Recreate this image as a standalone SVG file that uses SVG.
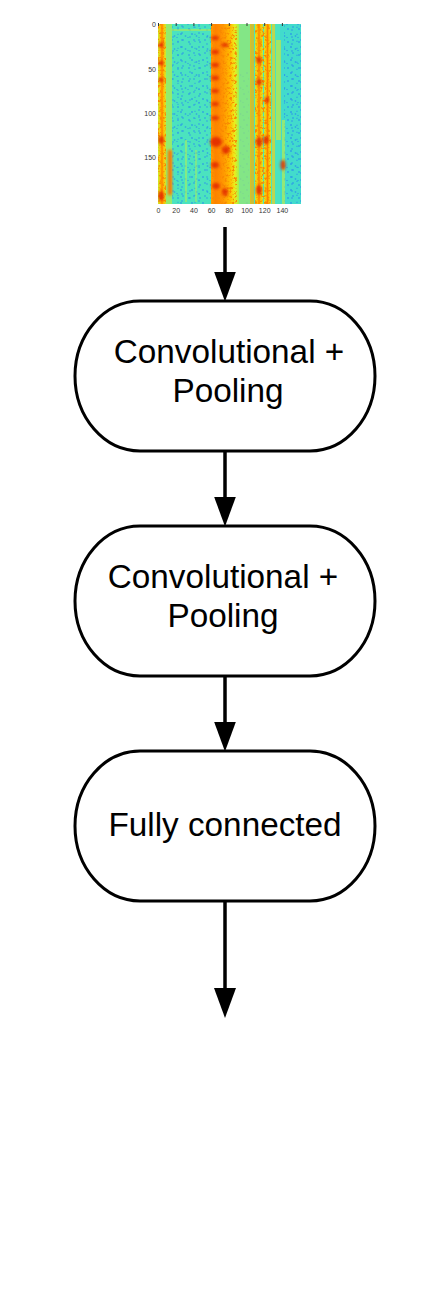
<svg xmlns="http://www.w3.org/2000/svg" width="444" height="1311" viewBox="0 0 444 1311">
<style>
.node{fill:#ffffff;stroke:#000000;stroke-width:3}
.lbl{font-family:"Liberation Sans",Arial,sans-serif;font-size:33.3px;fill:#000000;text-anchor:middle}
.conn{stroke:#000000;stroke-width:3.5;fill:none}
.ax{font-family:"Liberation Sans",Arial,sans-serif;font-size:7px;fill:#333333}
.axl{text-anchor:end}
.axb{text-anchor:middle}
.tick{stroke:#333333;stroke-width:1}
.dot{fill:#2a9ae8}
</style>
<defs>
<marker id="arrow" markerUnits="userSpaceOnUse" markerWidth="30" markerHeight="22" viewBox="0 0 30 22" refX="5" refY="11" orient="auto">
<path d="M0,0 L30,11 L0,22 Z" fill="#000000"/>
</marker>
<linearGradient id="stripe" x1="0" y1="0" x2="1" y2="0">
<stop offset="0" stop-color="#c8f030"/>
<stop offset="0.3" stop-color="#ffc000"/>
<stop offset="0.5" stop-color="#ff8000"/>
<stop offset="0.7" stop-color="#ffc000"/>
<stop offset="1" stop-color="#c8f030"/>
</linearGradient>
<linearGradient id="wide" x1="0" y1="0" x2="1" y2="0">
<stop offset="0" stop-color="#ffa000"/>
<stop offset="0.15" stop-color="#ff8000"/>
<stop offset="0.45" stop-color="#ff9800"/>
<stop offset="0.7" stop-color="#ffc000"/>
<stop offset="0.85" stop-color="#e8f020"/>
<stop offset="1" stop-color="#a0f050"/>
</linearGradient>
<pattern id="specA" patternUnits="userSpaceOnUse" x="0" y="0" width="11" height="13">
<circle class="dot" cx="2" cy="3" r="1"/>
<circle class="dot" cx="7" cy="1" r="0.9"/>
<circle class="dot" cx="5" cy="8" r="1.1"/>
<circle class="dot" cx="9.5" cy="10" r="0.9"/>
<circle class="dot" cx="1" cy="11.5" r="0.8"/>
</pattern>
<pattern id="specB" patternUnits="userSpaceOnUse" x="0" y="0" width="17" height="7">
<circle class="dot" cx="3" cy="2" r="0.9"/>
<circle class="dot" cx="12" cy="5" r="1"/>
<circle class="dot" cx="8" cy="6.3" r="0.8"/>
</pattern>
<filter id="warm" x="0" y="0" width="1" height="1">
<feTurbulence type="fractalNoise" baseFrequency="0.4" numOctaves="2" seed="7"/>
<feColorMatrix type="matrix" values="0 0 0 0 0.95  0 0 0 0 0.25  0 0 0 0 0  5 0 0 0 -2.5"/>
</filter>
<filter id="soft" x="-50%" y="-50%" width="200%" height="200%">
<feGaussianBlur stdDeviation="1.4"/>
</filter>
<filter id="blurall" x="0" y="0" width="1" height="1">
<feGaussianBlur stdDeviation="0.6"/>
</filter>
<clipPath id="specclip"><rect x="158" y="24" width="143" height="180"/></clipPath>
<clipPath id="warmclip">
<rect x="158" y="24" width="8" height="180"/>
<rect x="211" y="24" width="26" height="180"/>
<rect x="255" y="24" width="16" height="180"/>
</clipPath>
</defs>

<g id="spectrogram">
<g clip-path="url(#specclip)">
<g filter="url(#blurall)">
<rect x="158" y="24" width="143" height="180" fill="#4ce3bf"/>
<rect x="280" y="24" width="21" height="180" fill="#3ed6d6" opacity="0.6"/>
<rect x="172" y="24" width="39" height="180" fill="url(#specA)" opacity="0.7"/>
<rect x="172" y="24" width="39" height="180" fill="url(#specB)" opacity="0.6"/>
<rect x="284" y="24" width="17" height="180" fill="url(#specA)" opacity="0.8"/>
<rect x="284" y="24" width="17" height="180" fill="url(#specB)" opacity="0.7"/>
<rect x="240" y="70" width="9" height="134" fill="url(#specA)" opacity="0.4"/>
<rect x="158" y="24" width="8" height="180" fill="url(#stripe)"/>
<rect x="166" y="24" width="6" height="180" fill="#b4ee48" opacity="0.7"/>
<rect x="168" y="150" width="4" height="45" fill="#ff7000" filter="url(#soft)"/>
<rect x="185" y="140" width="2" height="62" fill="#a8ee60" opacity="0.6"/>
<rect x="195" y="150" width="2" height="52" fill="#a8ee60" opacity="0.5"/>
<rect x="211" y="24" width="28" height="180" fill="url(#wide)"/>
<rect x="239" y="24" width="12" height="180" fill="#a8e860" opacity="0.6"/>
<rect x="250" y="24" width="4" height="180" fill="#ffb000" opacity="0.7"/>
<rect x="255" y="24" width="8" height="180" fill="url(#stripe)"/>
<rect x="264" y="24" width="7" height="180" fill="url(#stripe)"/>
<rect x="272" y="24" width="3" height="180" fill="#f0d020" opacity="0.7"/>
<rect x="276" y="40" width="5" height="100" fill="#d8e830" opacity="0.6"/>
<rect x="282" y="120" width="3" height="84" fill="#c8f040" opacity="0.6"/>
<rect x="172" y="29" width="39" height="2" fill="#c0f040" opacity="0.5"/>
<rect x="158" y="24" width="143" height="180" filter="url(#warm)" clip-path="url(#warmclip)"/>
<g fill="#e02000" filter="url(#soft)" opacity="0.85">
<ellipse cx="161" cy="45" rx="3" ry="2.5"/>
<ellipse cx="161" cy="63" rx="3" ry="2.5"/>
<ellipse cx="161" cy="80" rx="3" ry="2"/>
<ellipse cx="161" cy="140" rx="3" ry="4"/>
<ellipse cx="161" cy="196" rx="3" ry="5"/>
<ellipse cx="215" cy="38" rx="4" ry="2"/>
<ellipse cx="215" cy="52" rx="4" ry="2.2"/>
<ellipse cx="215" cy="65" rx="4" ry="2.2"/>
<ellipse cx="215" cy="78" rx="4" ry="2.2"/>
<ellipse cx="215" cy="91" rx="4" ry="2"/>
<ellipse cx="215" cy="104" rx="4" ry="2"/>
<ellipse cx="215" cy="118" rx="4" ry="2"/>
<ellipse cx="216" cy="142" rx="6" ry="5"/>
<ellipse cx="215" cy="165" rx="4" ry="3"/>
<ellipse cx="216" cy="186" rx="4" ry="3"/>
<ellipse cx="225" cy="45" rx="4" ry="2"/>
<ellipse cx="226" cy="150" rx="4" ry="4"/>
<ellipse cx="225" cy="192" rx="3" ry="4"/>
<ellipse cx="259" cy="60" rx="3" ry="3"/>
<ellipse cx="259" cy="82" rx="3" ry="3"/>
<ellipse cx="259" cy="142" rx="3" ry="5"/>
<ellipse cx="259" cy="190" rx="3" ry="5"/>
<ellipse cx="267" cy="100" rx="2.5" ry="3"/>
<ellipse cx="266" cy="140" rx="3" ry="4"/>
<ellipse cx="283" cy="165" rx="2.5" ry="5"/>
</g>
</g>
</g>
<g class="tick">
<line x1="158.5" y1="23" x2="158.5" y2="26"/>
<line x1="176.2" y1="23" x2="176.2" y2="26"/>
<line x1="193.9" y1="23" x2="193.9" y2="26"/>
<line x1="211.6" y1="23" x2="211.6" y2="26"/>
<line x1="229.3" y1="23" x2="229.3" y2="26"/>
<line x1="247" y1="23" x2="247" y2="26"/>
<line x1="264.7" y1="23" x2="264.7" y2="26"/>
<line x1="282.4" y1="23" x2="282.4" y2="26"/>
</g>
<g class="ax axl">
<text x="156" y="27">0</text>
<text x="156" y="72">50</text>
<text x="156" y="116">100</text>
<text x="156" y="160">150</text>
</g>
<g class="ax axb">
<text x="158.5" y="213">0</text>
<text x="176.2" y="213">20</text>
<text x="193.9" y="213">40</text>
<text x="211.6" y="213">60</text>
<text x="229.3" y="213">80</text>
<text x="247" y="213">100</text>
<text x="264.7" y="213">120</text>
<text x="282.4" y="213">140</text>
</g>
</g>

<g id="connectors">
<line class="conn" x1="225" y1="227" x2="225" y2="276.5" marker-end="url(#arrow)"/>
<line class="conn" x1="225" y1="451" x2="225" y2="501.5" marker-end="url(#arrow)"/>
<line class="conn" x1="225" y1="676" x2="225" y2="726.5" marker-end="url(#arrow)"/>
<line class="conn" x1="225" y1="901" x2="225" y2="993" marker-end="url(#arrow)"/>
</g>

<g id="node1">
<rect class="node" x="75" y="301" width="300" height="150" rx="65" ry="75"/>
<text class="lbl" x="229" y="363">Convolutional +</text>
<text class="lbl" x="228" y="401.5">Pooling</text>
</g>
<g id="node2">
<rect class="node" x="75" y="526" width="300" height="150" rx="65" ry="75"/>
<text class="lbl" x="223" y="588">Convolutional +</text>
<text class="lbl" x="223" y="626.5">Pooling</text>
</g>
<g id="node3">
<rect class="node" x="75" y="751" width="300" height="150" rx="65" ry="75"/>
<text class="lbl" x="225" y="835.5">Fully connected</text>
</g>
</svg>
